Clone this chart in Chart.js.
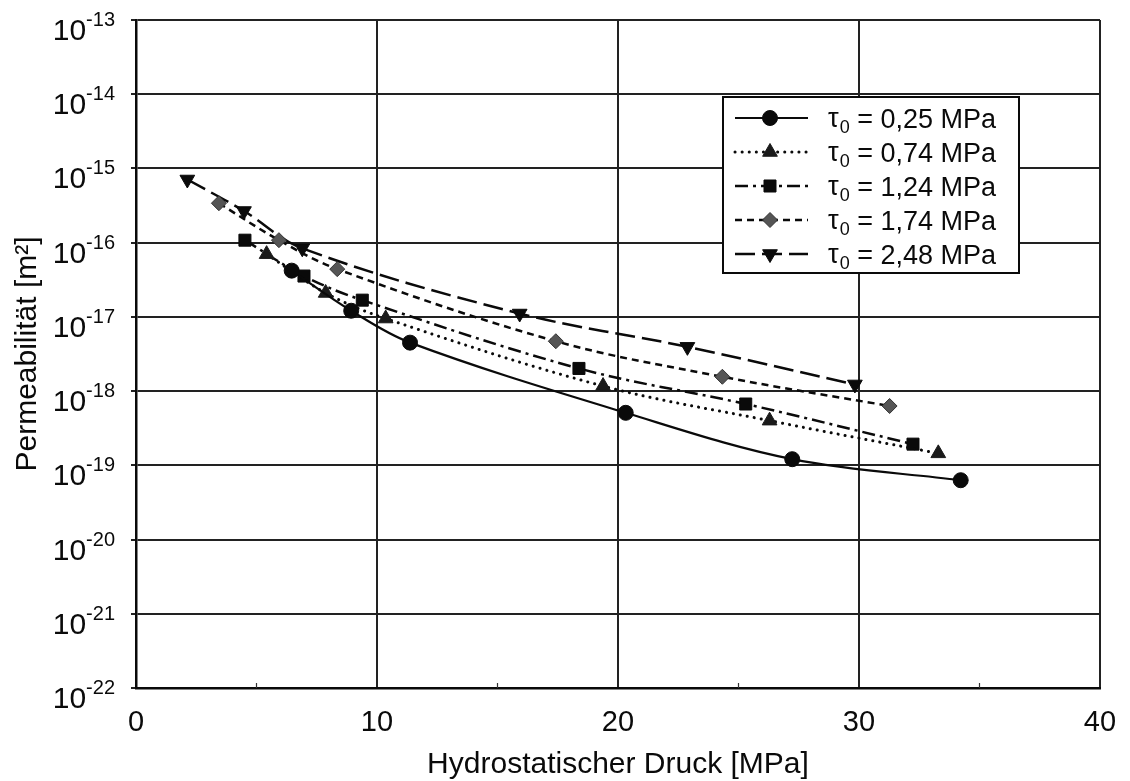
<!DOCTYPE html>
<html>
<head>
<meta charset="utf-8">
<script src="https://cdn.jsdelivr.net/npm/chart.js@4.4.1/dist/chart.umd.min.js"></script>
<style>
  html, body { margin: 0; padding: 0; background: #fff; }
  #wrap { width: 1130px; height: 781px; }
</style>
</head>
<body>
<div id="wrap"><canvas id="chart"></canvas></div>
<script>
// values (pressure in MPa, permeability in m^2)
const press025 = [6.46, 8.93, 11.37, 20.32, 27.23, 34.22];
const perm025 = [4.2e-17, 1.21e-17, 4.5e-18, 5.1e-19, 1.21e-19, 6.3e-20];

const press074 = [5.42, 7.87, 10.36, 19.38, 26.29, 33.29];
const perm074 = [7.0e-17, 2.1e-17, 9.5e-18, 1.17e-18, 4.0e-19, 1.45e-19];

const press124 = [4.52, 6.97, 9.39, 18.38, 25.30, 32.24];
const perm124 = [1.08e-16, 3.55e-17, 1.68e-17, 2.02e-18, 6.7e-19, 1.93e-19];

const press174 = [3.44, 5.93, 8.35, 17.42, 24.33, 31.27];
const perm174 = [3.4e-16, 1.08e-16, 4.4e-17, 4.7e-18, 1.56e-18, 6.3e-19];

const press248 = [2.13, 4.48, 6.90, 15.92, 22.88, 29.83];
const perm248 = [7.1e-16, 2.67e-16, 8.4e-17, 1.11e-17, 3.95e-18, 1.23e-18];

const tauValues = ["0,25", "0,74", "1,24", "1,74", "2,48"];
const yExponents = [-22, -21, -20, -19, -18, -17, -16, -15, -14, -13];
const xMinorTicks = [5, 15, 25, 35];

const FONT = "'Liberation Sans', Arial, Helvetica, sans-serif";
const INK = "#0a0a0a";

function pts(xs, ys) {
  return xs.map((x, i) => ({ x: x, y: ys[i] }));
}

const datasets = [
  {
    label: "τ₀ = " + tauValues[0] + " MPa",
    data: pts(press025, perm025),
    borderColor: INK, borderWidth: 2.2, borderDash: [],
    pointStyle: "circle", pointRadius: 7.5,
    pointBackgroundColor: INK, pointBorderColor: INK,
  },
  {
    label: "τ₀ = " + tauValues[1] + " MPa",
    data: pts(press074, perm074),
    borderColor: INK, borderWidth: 3, borderDash: [0.1, 7], borderCapStyle: "round",
    pointStyle: "triangle", pointRadius: 8.5,
    pointBackgroundColor: "#1a1a1a", pointBorderColor: "#1a1a1a",
  },
  {
    label: "τ₀ = " + tauValues[2] + " MPa",
    data: pts(press124, perm124),
    borderColor: INK, borderWidth: 2.5, borderDash: [13, 5, 3, 5],
    pointStyle: "rect", pointRadius: 8.5,
    pointBackgroundColor: INK, pointBorderColor: INK,
  },
  {
    label: "τ₀ = " + tauValues[3] + " MPa",
    data: pts(press174, perm174),
    borderColor: INK, borderWidth: 2.5, borderDash: [7, 5],
    pointStyle: "rectRot", pointRadius: 7.5,
    pointBackgroundColor: "#555", pointBorderColor: "#333",
  },
  {
    label: "τ₀ = " + tauValues[4] + " MPa",
    data: pts(press248, perm248),
    borderColor: INK, borderWidth: 2.5, borderDash: [20, 7],
    pointStyle: "triangle", pointRotation: 180, pointRadius: 8.5,
    pointBackgroundColor: INK, pointBorderColor: INK,
  },
];
datasets.forEach(d => { d.fill = false; d.tension = 0.35; d.pointBorderWidth = 1; });

// y tick labels as 10 with a raised exponent
const powerLabels = {
  id: "powerLabels",
  afterDraw(chart) {
    const ctx = chart.ctx;
    const y = chart.scales.y;
    const right = 115;
    ctx.save();
    ctx.fillStyle = INK;
    ctx.textBaseline = "alphabetic";
    ctx.textAlign = "left";
    yExponents.forEach(e => {
      const py = y.getPixelForValue(Math.pow(10, e));
      const sup = String(e);
      ctx.font = "20px " + FONT;
      const ws = ctx.measureText(sup).width;
      ctx.font = "30px " + FONT;
      const wb = ctx.measureText("10").width;
      ctx.fillText("10", right - ws - wb, py + 20);
      ctx.font = "20px " + FONT;
      ctx.fillText(sup, right - ws, py + 6);
    });
    // small inner ticks on the x axis
    const x = chart.scales.x;
    const bottom = chart.chartArea.bottom;
    ctx.strokeStyle = "#333";
    ctx.lineWidth = 1.2;
    xMinorTicks.forEach(v => {
      const px = x.getPixelForValue(v);
      ctx.beginPath();
      ctx.moveTo(px, bottom);
      ctx.lineTo(px, bottom - 5);
      ctx.stroke();
    });
    ctx.restore();
  }
};

// boxed legend inside the plot
const boxLegend = {
  id: "boxLegend",
  afterDraw(chart) {
    const ctx = chart.ctx;
    const x0 = 723, y0 = 97, w = 296, h = 176;
    ctx.save();
    ctx.fillStyle = "#fff";
    ctx.fillRect(x0, y0, w, h);
    ctx.strokeStyle = INK;
    ctx.lineWidth = 2;
    ctx.strokeRect(x0, y0, w, h);
    chart.data.datasets.forEach((ds, i) => {
      const ry = y0 + 21 + i * 34;
      ctx.strokeStyle = ds.borderColor;
      ctx.lineWidth = ds.borderWidth;
      ctx.lineCap = ds.borderCapStyle || "butt";
      ctx.setLineDash(ds.borderDash);
      ctx.beginPath();
      ctx.moveTo(x0 + 12, ry);
      ctx.lineTo(x0 + 85, ry);
      ctx.stroke();
      ctx.setLineDash([]);
      ctx.lineCap = "butt";
      ctx.fillStyle = ds.pointBackgroundColor;
      ctx.strokeStyle = ds.pointBorderColor;
      ctx.lineWidth = 1;
      Chart.helpers.drawPoint(ctx, {
        pointStyle: ds.pointStyle,
        rotation: ds.pointRotation || 0,
        radius: ds.pointRadius,
        borderWidth: 1,
      }, x0 + 47, ry);

      ctx.fillStyle = INK;
      ctx.textBaseline = "alphabetic";
      ctx.textAlign = "left";
      let tx = x0 + 105;
      ctx.font = "27px " + FONT;
      ctx.fillText("τ", tx, ry + 9);
      tx += ctx.measureText("τ").width + 1;
      ctx.font = "18px " + FONT;
      ctx.fillText("0", tx, ry + 15);
      tx += ctx.measureText("0").width;
      ctx.font = "27px " + FONT;
      ctx.fillText(" = " + tauValues[i] + " MPa", tx, ry + 10);
    });
    ctx.restore();
  }
};

new Chart(document.getElementById("chart"), {
  type: "line",
  data: { datasets: datasets },
  plugins: [powerLabels, boxLegend],
  options: {
    responsive: true,
    maintainAspectRatio: false,
    animation: false,
    layout: { padding: { top: 20, right: 30, left: 0, bottom: 0 } },
    plugins: {
      legend: { display: false },
      tooltip: { enabled: false },
    },
    scales: {
      x: {
        type: "linear",
        min: 0, max: 40,
        ticks: { stepSize: 10, color: INK, font: { family: FONT, size: 29 }, padding: 10 },
        grid: { color: "#222", lineWidth: 2, drawTicks: true, tickLength: 8, tickColor: "rgba(0,0,0,0)" },
        border: { color: INK, width: 2.5 },
        title: {
          display: true, text: "Hydrostatischer Druck [MPa]", color: INK,
          font: { family: FONT, size: 30, lineHeight: 1 }, padding: { top: 0, bottom: 1 },
        },
        afterFit: s => { s.height = 93; },
      },
      y: {
        type: "logarithmic",
        min: 1e-22, max: 1e-13,
        ticks: { display: false },
        afterBuildTicks: s => { s.ticks = yExponents.map(e => ({ value: Math.pow(10, e) })); },
        grid: { color: "#222", lineWidth: 2, drawTicks: true, tickLength: 5 },
        border: { color: INK, width: 2.5 },
        title: {
          display: true, text: "Permeabilität [m²]", color: INK,
          font: { family: FONT, size: 30, lineHeight: 1 }, padding: { top: 13, bottom: 0 },
        },
        afterFit: s => { s.width = 136; },
      },
    },
  },
});
</script>
</body>
</html>
